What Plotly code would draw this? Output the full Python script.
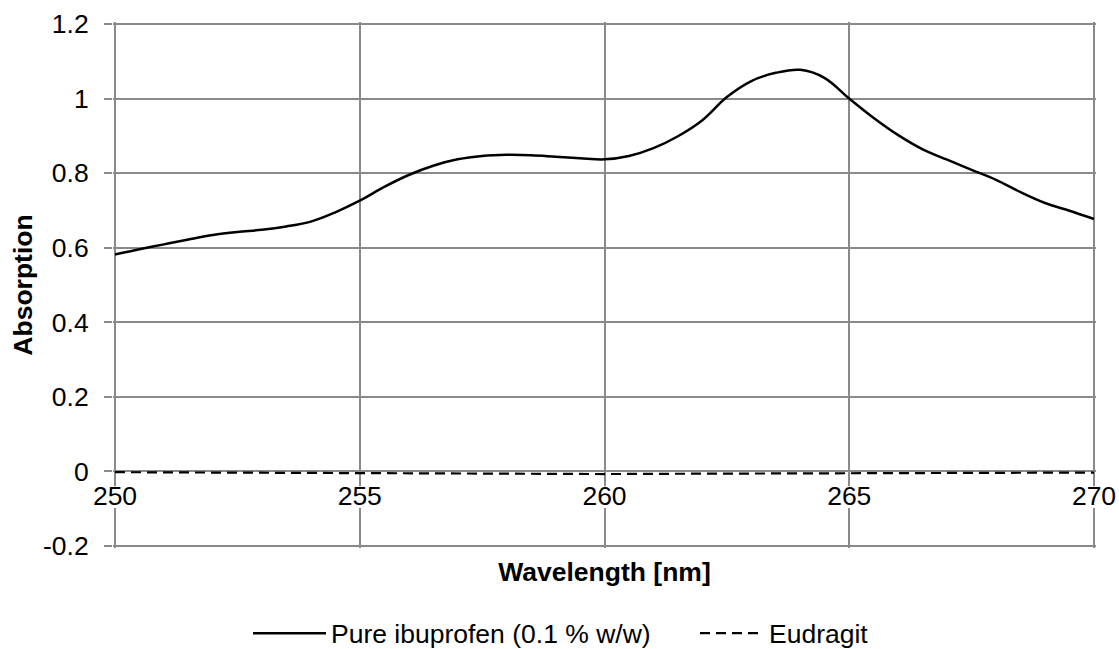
import plotly.graph_objects as go

# Data
wavelength = [250, 250.5, 251, 251.5, 252, 252.5, 253, 253.5, 254, 254.5, 255, 255.5,
              256, 256.5, 257, 257.5, 258, 258.5, 259, 259.5, 260, 260.5, 261, 261.5,
              262, 262.5, 263, 263.5, 264, 264.5, 265, 265.5, 266, 266.5, 267, 267.5,
              268, 268.5, 269, 269.5, 270]
ibuprofen = [0.582, 0.596, 0.609, 0.622, 0.634, 0.642, 0.648, 0.657, 0.670, 0.695, 0.726, 0.763,
             0.795, 0.820, 0.837, 0.846, 0.849, 0.848, 0.844, 0.840, 0.837, 0.846, 0.867, 0.899,
             0.942, 1.004, 1.047, 1.069, 1.077, 1.055, 1.000, 0.948, 0.902, 0.864, 0.836, 0.809,
             0.782, 0.749, 0.720, 0.699, 0.677]
eudragit_wl = [250, 252, 254, 256, 258, 260, 262, 264, 266, 268, 270]
eudragit = [-0.002, -0.003, -0.004, -0.005, -0.006, -0.007, -0.006, -0.005, -0.004, -0.004, -0.003]

x_ticks = [250, 255, 260, 265, 270]
y_ticks = [-0.2, 0, 0.2, 0.4, 0.6, 0.8, 1.0, 1.2]
y_tick_text = ["-0.2", "0", "0.2", "0.4", "0.6", "0.8", "1", "1.2"]

FONT = "Liberation Sans, Arial, sans-serif"
GRID = "#8a8a8a"
FS = 26.5

fig = go.Figure()
fig.add_trace(go.Scatter(
    x=wavelength, y=ibuprofen, mode="lines", name="Pure ibuprofen (0.1 % w/w)",
    legend="legend", showlegend=True,
    line=dict(color="black", width=2.5, shape="spline", smoothing=1.0)))
fig.add_trace(go.Scatter(
    x=eudragit_wl, y=eudragit, mode="lines", name="Eudragit",
    legend="legend2", showlegend=True,
    line=dict(color="black", width=2.2, dash="10px,6px")))

x_lo, x_hi = 250, 270
y_min, y_max = -0.2, 1.2
# small padding (2 px) so the boundary grid lines at the range ends are drawn
xpad = 2 / 48.95
ypad = 2 / 372.86
fig.update_layout(
    width=1119, height=649,
    showlegend=True,
    margin=dict(l=113, r=23, t=22, b=101),
    paper_bgcolor="white", plot_bgcolor="white",
    font=dict(family=FONT, size=FS, color="black"),
    xaxis=dict(
        range=[x_lo - xpad, x_hi + xpad], tickvals=x_ticks, showgrid=True,
        gridcolor=GRID, gridwidth=1.5, automargin=False,
        zeroline=False, showline=False, ticks="", anchor="free",
        position=(0 - (y_min - ypad)) / ((y_max + ypad) - (y_min - ypad)),
        tickfont=dict(size=FS), ticklabelstandoff=6,
        title=dict(text="<b>Wavelength [nm]</b>", font=dict(size=FS), standoff=52)),
    yaxis=dict(
        range=[y_min - ypad, y_max + ypad], tickvals=y_ticks, ticktext=y_tick_text,
        showgrid=True, gridcolor=GRID, gridwidth=1.5, zeroline=False, showline=False,
        automargin=False,
        ticks="outside", ticklen=8, tickcolor=GRID, tickwidth=1.5,
        tickfont=dict(size=FS), ticklabelstandoff=10,
        title=dict(text="<b>Absorption</b>", font=dict(size=FS), standoff=2)),
    legend=dict(orientation="h", xref="container", yref="container",
                x=248 / 1119, xanchor="left", y=0.024, yanchor="middle",
                font=dict(size=FS), itemwidth=73, bgcolor="rgba(0,0,0,0)",
                visible=True),
    legend2=dict(orientation="h", xref="container", yref="container",
                 x=695 / 1119, xanchor="left", y=0.024, yanchor="middle",
                 font=dict(size=FS), itemwidth=64, bgcolor="rgba(0,0,0,0)",
                 visible=True),
    shapes=[dict(type="rect", xref="x", yref="y", x0=249, x1=271, y0=-0.098, y1=-0.04,
                 fillcolor="white", line=dict(width=0), layer="between")],
)

fig.write_html("out.html")
